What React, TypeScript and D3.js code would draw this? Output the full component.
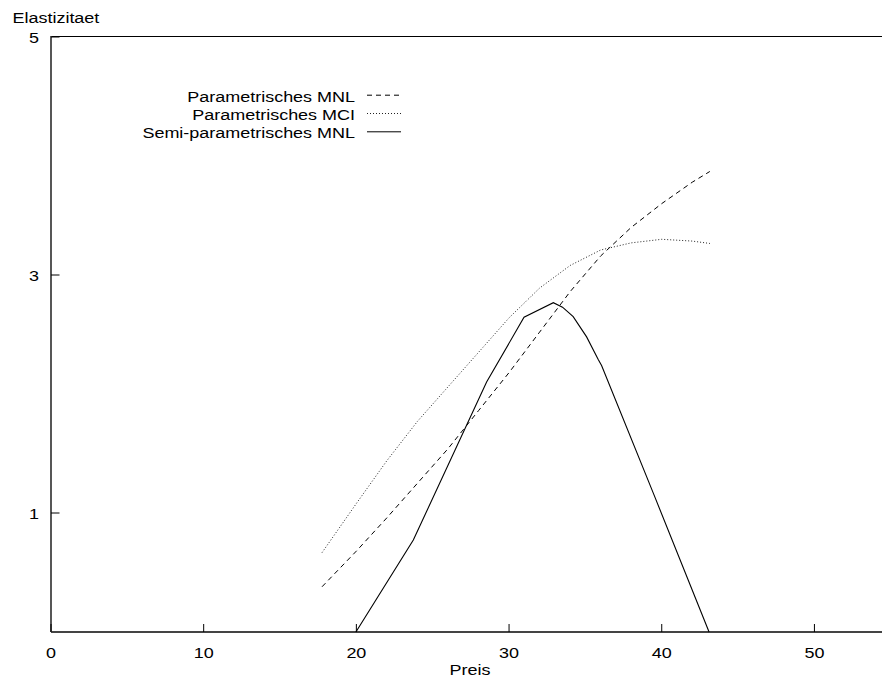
import React from "react";
import * as d3 from "d3";

const W = 882;
const H = 686;

// Preis values for the parametric curves
const preisParam = [17.75, 20, 22, 24, 26, 28, 30, 32, 34, 36, 38, 40, 42, 43.15];
const mnlParam = [0.38, 0.68, 0.96, 1.25, 1.54, 1.86, 2.18, 2.52, 2.86, 3.16, 3.4, 3.6, 3.78, 3.87];
const mciParam = [0.667, 1.08, 1.44, 1.77, 2.06, 2.35, 2.64, 2.89, 3.08, 3.21, 3.27, 3.3, 3.285, 3.265];

// Semi-parametric MNL
const preisSemi = [19.97, 23.73, 28.53, 30.98, 32.9, 33.5, 34.2, 35.08, 35.84, 36.06, 39.5, 43.1];
const mnlSemi = [0, 0.773, 2.1, 2.645, 2.767, 2.73, 2.65, 2.48, 2.29, 2.24, 1.15, 0];

const xTicks = [0, 10, 20, 30, 40, 50];
const yTicks = [1, 3, 5];

const seriesNames = ["Parametrisches MNL", "Parametrisches MCI", "Semi-parametrisches MNL"];
const seriesDash = ["5,4", "1,2", null];

const FS = 15.5;
const SX = 1.16;

function T({ x, y, anchor = "start", children }: any) {
  return (
    <text
      transform={`translate(${x},${y}) scale(${SX},1)`}
      textAnchor={anchor}
      fontFamily="'Liberation Sans', Arial, Helvetica, sans-serif"
      fontSize={FS}
      fill="#000"
    >
      {children}
    </text>
  );
}

export default function App() {
  const x = d3.scaleLinear().domain([0, 54.36]).range([51, 881]);
  const y = d3.scaleLinear().domain([0, 5]).range([632, 37]);

  const line = d3
    .line<[number, number]>()
    .x((d) => x(d[0]))
    .y((d) => y(d[1]));

  const mnlPts = preisParam.map((p, i) => [p, mnlParam[i]] as [number, number]);
  const mciPts = preisParam.map((p, i) => [p, mciParam[i]] as [number, number]);
  const semiPts = preisSemi.map((p, i) => [p, mnlSemi[i]] as [number, number]);
  const paths = [line(mnlPts), line(mciPts), line(semiPts)];

  const legendRight = 355;
  const legendBase = [101.7, 120, 138.3];

  return (
    <div style={{ position: "fixed", left: 0, top: 0, width: W, height: H, background: "#fff" }}>
      <svg width={W} height={H} style={{ display: "block" }}>
        <rect width={W} height={H} fill="#fff" />
        {/* top border */}
        <line x1={x(0)} x2={W} y1={y(5) - 0.5} y2={y(5) - 0.5} stroke="#000" strokeWidth={1} />
        {/* axes */}
        <line x1={x(0)} x2={x(0)} y1={y(5) - 1} y2={y(0)} stroke="#444" strokeWidth={1.8} />
        <line x1={x(0)} x2={W} y1={y(0)} y2={y(0)} stroke="#444" strokeWidth={1.8} />
        {/* x ticks */}
        {xTicks.map((t) => (
          <g key={"x" + t}>
            <line x1={x(t)} x2={x(t)} y1={y(0)} y2={y(0) - 8} stroke="#000" strokeWidth={1} />
            <T x={x(t)} y={658} anchor="middle">
              {t}
            </T>
          </g>
        ))}
        {/* y ticks */}
        {yTicks.map((t) => (
          <g key={"y" + t}>
            <line x1={x(0)} x2={x(0) + 8.5} y1={y(t)} y2={y(t)} stroke="#000" strokeWidth={1} />
            <T x={39} y={y(t) + 5.5} anchor="end">
              {t}
            </T>
          </g>
        ))}
        <T x={12.5} y={23}>Elastizitaet</T>
        <T x={470} y={675} anchor="middle">Preis</T>

        {/* curves */}
        {paths.map((d, i) => (
          <path
            key={"p" + i}
            d={d || ""}
            fill="none"
            stroke={i === 1 ? "#222" : "#000"}
            strokeWidth={i === 2 ? 1.1 : 1}
            strokeDasharray={seriesDash[i] || undefined}
          />
        ))}

        {/* legend */}
        {seriesNames.map((n, i) => (
          <g key={"l" + i}>
            <T x={legendRight} y={legendBase[i]} anchor="end">
              {n}
            </T>
            <line
              x1={367}
              x2={401}
              y1={legendBase[i] - 6.5}
              y2={legendBase[i] - 6.5}
              stroke={i === 1 ? "#222" : "#000"}
              strokeWidth={1}
              strokeDasharray={seriesDash[i] || undefined}
            />
          </g>
        ))}
      </svg>
    </div>
  );
}
